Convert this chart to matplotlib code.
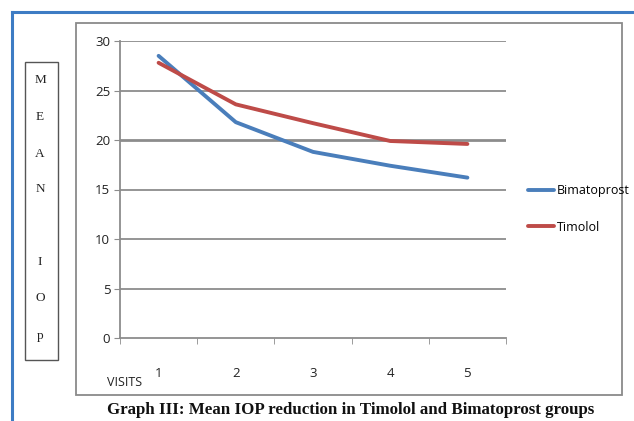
import matplotlib
matplotlib.use("Agg")
import matplotlib.pyplot as plt
from matplotlib.patches import Rectangle
from matplotlib.lines import Line2D

# data
visits = [1, 2, 3, 4, 5]
bimatoprost = [28.5, 21.8, 18.8, 17.4, 16.2]
timolol = [27.8, 23.6, 21.7, 19.9, 19.6]
y_ticks = [0, 5, 10, 15, 20, 25, 30]
ylabel_letters = ["M", "E", "A", "N", "I", "O", "p"]
ylabel_rows = [80, 117, 154, 189, 262, 298, 336]

W, H = 634, 421
BLUE = "#4a7ebb"
RED = "#be4b48"
GRID = "#8c8c8c"


def fx(px):
    return px / W


def fy(py):
    return 1 - py / H


fig = plt.figure(figsize=(W / 100, H / 100), dpi=100)
fig.patch.set_facecolor("white")

# outer blue frame (only top and left visible)
fig.add_artist(Line2D([fx(12), 1], [fy(12), fy(12)], color="#3d7cc4", lw=2.2))
fig.add_artist(Line2D([fx(12), fx(12)], [fy(12), 0], color="#3d7cc4", lw=2.2))

# gray chart box
fig.add_artist(Rectangle((fx(76), fy(395)), fx(622) - fx(76), fy(23) - fy(395),
                         fill=False, edgecolor="#8a8a8a", lw=1.3))

# y label box with stacked letters
fig.add_artist(Rectangle((fx(25), fy(360)), fx(58) - fx(25), fy(62) - fy(360),
                         fill=False, edgecolor="#555555", lw=1.0))
for letter, row in zip(ylabel_letters, ylabel_rows):
    fig.text(fx(40), fy(row), letter, ha="center", va="center",
             fontsize=9.5, family="Liberation Serif", color="#222222")

ax = fig.add_axes([fx(120), fy(338), fx(506) - fx(120), fy(41) - fy(338)])
line_b, = ax.plot(visits, bimatoprost, color=BLUE, lw=2.8, solid_capstyle="round",
                  label="Bimatoprost", zorder=3)
line_t, = ax.plot(visits, timolol, color=RED, lw=2.8, solid_capstyle="round",
                  label="Timolol", zorder=3)

ax.set_xlim(0.5, 5.5)
ax.set_ylim(0, 30)
ax.set_yticks(y_ticks)
ax.set_xticks(visits)
ax.set_xticks([0.5, 1.5, 2.5, 3.5, 4.5, 5.5], minor=True)
ax.tick_params(axis="x", which="major", length=0, pad=21, labelsize=9.5)
ax.tick_params(axis="x", which="minor", length=4, color=GRID, direction="out")
ax.tick_params(axis="y", length=4, color=GRID, pad=3, labelsize=9.5)
for lab in ax.get_xticklabels() + ax.get_yticklabels():
    lab.set_family("Open Sans")
    lab.set_color("#222222")

for y in y_ticks[1:]:
    ax.axhline(y, color=GRID, lw=2.0 if y == 20 else 1.3, zorder=1)
for side in ["top", "right"]:
    ax.spines[side].set_visible(False)
for side in ["left", "bottom"]:
    ax.spines[side].set_color(GRID)
    ax.spines[side].set_linewidth(1.3)

# legend placed in figure pixels to the right of the plot area
fig.legend(handles=[line_b, line_t], loc="center left",
           bbox_to_anchor=(fx(519), fy(209)), frameon=False,
           handlelength=2.1, handletextpad=0.2, labelspacing=1.85,
           borderpad=0.2, prop={"family": "Open Sans", "size": 9})

fig.text(fx(107), fy(382), "VISITS", ha="left", va="center",
         fontsize=9, family="Open Sans", color="#222222")
fig.text(fx(351), fy(410), "Graph III: Mean IOP reduction in Timolol and Bimatoprost groups",
         ha="center", va="center", fontsize=12.2, fontweight="bold",
         family="Liberation Serif", color="#111111")

fig.savefig("out.png", dpi=100)
